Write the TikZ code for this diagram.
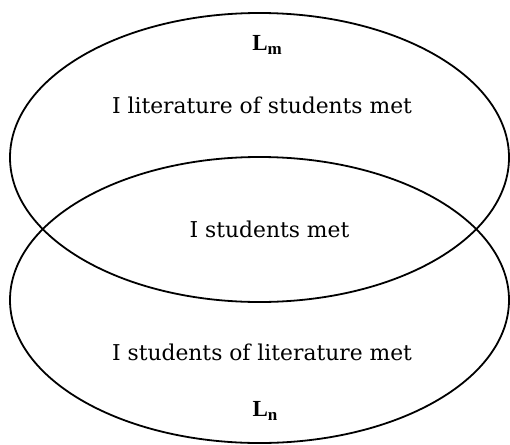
\documentclass[tikz,border=0pt]{standalone}
\usepackage{fontspec}
\setmainfont{DejaVu Serif}
\newfontfamily\namefont{Liberation Serif}
\newcommand{\setsub}[2]{#1\raisebox{-0.15em}{\fontsize{17}{20}\selectfont #2}}
\begin{document}
\begin{tikzpicture}[x=1pt,y=-1pt,
  set/.style={draw=black,line width=1.8pt},
  lbl/.style={inner sep=0pt,font=\fontsize{21.8}{26}\selectfont},
  setname/.style={inner sep=0pt,font=\fontsize{23}{26}\selectfont\namefont\bfseries}]
\useasboundingbox (0,0) rectangle (510,444);
% the two overlapping sets
\draw[set] (259.5,157.5) ellipse [x radius=249.5, y radius=144.5];
\draw[set] (259.5,300) ellipse [x radius=249.5, y radius=143];
% set names
\node[setname] (lm) at (267,45) {\setsub{L}{m}};
\node[setname] (ln) at (265,411) {\setsub{L}{n}};
% region texts
\node[lbl] (top) at (262,105) {I literature of students met};
\node[lbl] (mid) at (269.5,229) {I students met};
\node[lbl] (bot) at (262,352) {I students of literature met};
\end{tikzpicture}
\end{document}
